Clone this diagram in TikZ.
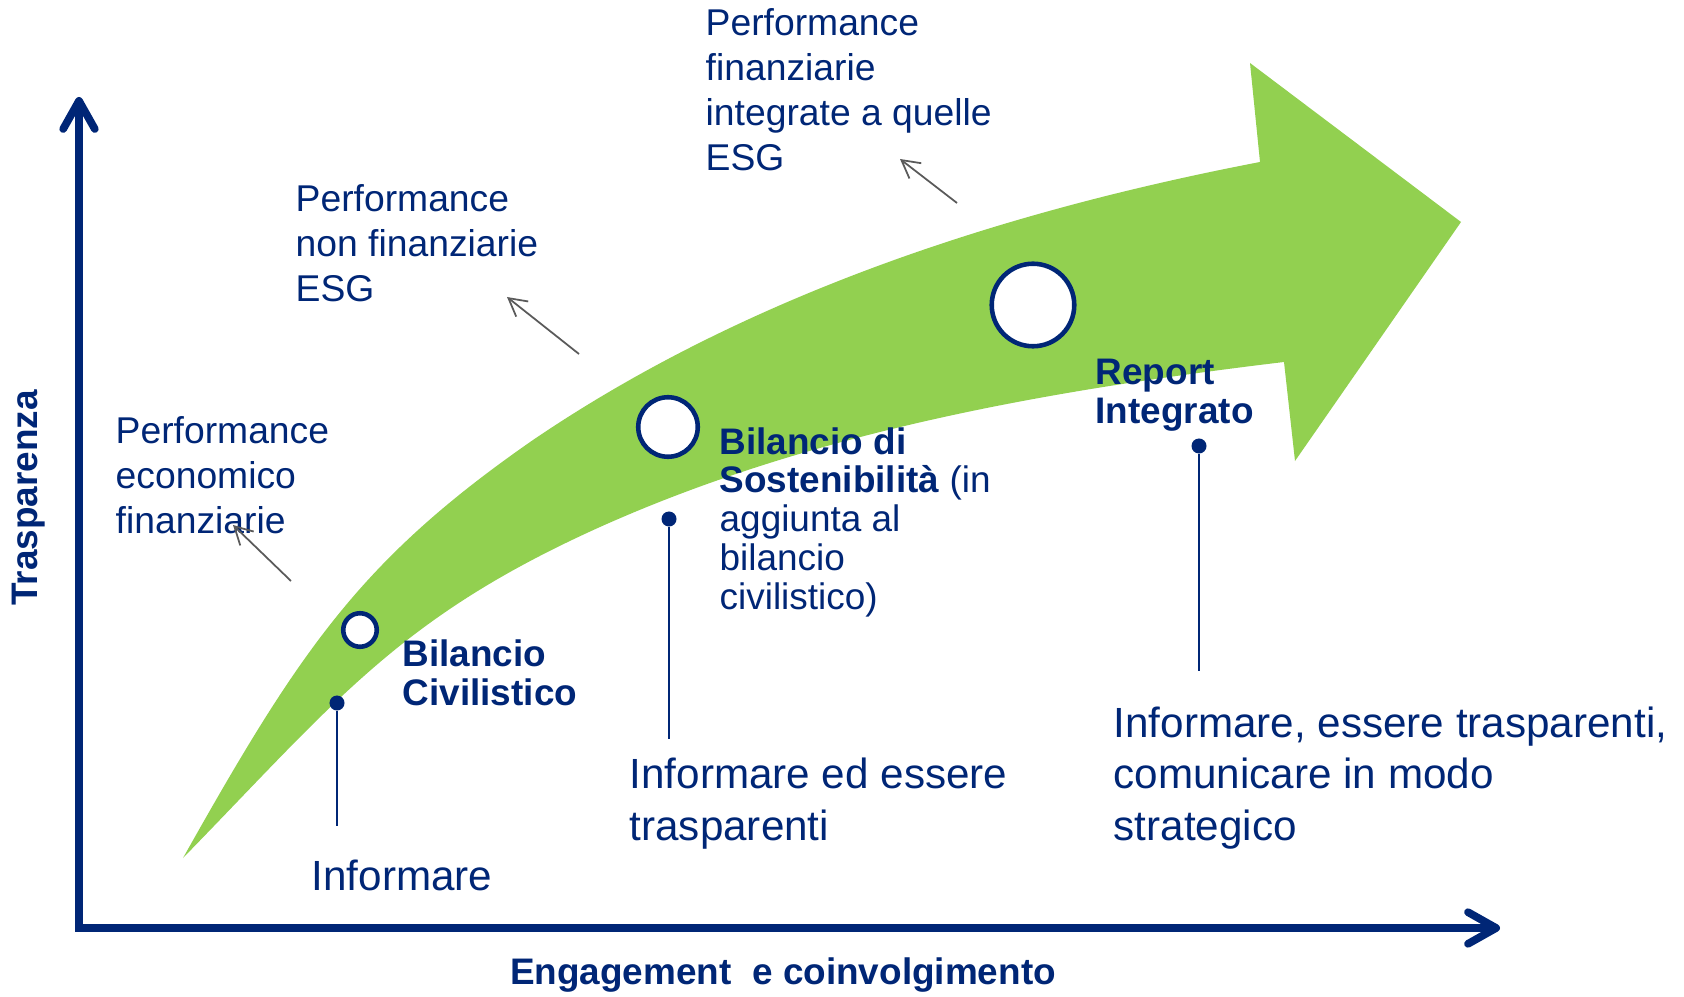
\documentclass[tikz,border=0pt]{standalone}
\usepackage{fontspec}
\setmainfont{Liberation Sans}
\usetikzlibrary{arrows.meta}
\definecolor{navyblu}{RGB}{0,38,118}
\definecolor{verde}{RGB}{146,208,80}
\definecolor{grigio}{RGB}{90,90,90}

\begin{document}
\begin{tikzpicture}[x=0.01cm, y=-0.01cm,
  testo/.style={anchor=base west, inner sep=0pt, align=left, text=navyblu, font=\fontsize{10.6}{12.8}\selectfont},
  grande/.style={testo, font=\fontsize{12}{14.6}\selectfont},
  grassetto/.style={testo, font=\fontsize{10.5}{11}\selectfont\bfseries},
  cerchio/.style={circle, draw=navyblu, fill=white, line width=1.3pt, inner sep=0pt},
  punto/.style={circle, fill=navyblu, inner sep=0pt, minimum size=0.15cm},
  asta/.style={navyblu, line width=0.6pt},
  freccina/.style={grigio, line width=0.5pt, -{Straight Barb[length=5pt,width=5.5pt]}}]

\useasboundingbox (0,0) rectangle (1684,997);

% Freccia verde curva
\fill[verde] (183,858) .. controls (300,650) and (360,560) .. (533,440)
  .. controls (748,294) and (1005,211) .. (1260,162)
  -- (1250,63) -- (1461,222) -- (1295,461) -- (1284,362)
  .. controls (1051,390) and (814,431) .. (600,527)
  .. controls (400,617) and (337,700) .. cycle;

% Assi
\coordinate (ytop) at (79,97);
\coordinate (orig) at (79,928);
\coordinate (xend) at (1500,928);
\draw[navyblu, line width=2.2pt, {Straight Barb[length=8pt,width=9pt,round]}-{Straight Barb[length=8pt,width=9pt,round]}] (ytop) -- (orig) -- (xend);
\node[rotate=90, text=navyblu, font=\fontsize{10.5}{12}\selectfont\bfseries] (ylab) at (29,498) {Trasparenza};
\node[text=navyblu, font=\fontsize{10.5}{12}\selectfont\bfseries] (xlab) at (783,975) {Engagement~ e coinvolgimento};

% Tappe sulla freccia
\node[cerchio, minimum size=0.335cm] (c1) at (360,630) {};
\node[cerchio, minimum size=0.595cm] (c2) at (668,427) {};
\node[cerchio, minimum size=0.825cm] (c3) at (1033,305) {};

% (base = ultima riga)
\node[grassetto] (bil) at (402,705) {Bilancio\\Civilistico};
\node[testo, font=\fontsize{10.5}{11}\selectfont] (sost) at (719,609) {\textbf{Bilancio di}\\\textbf{Sostenibilità} (in\\aggiunta al\\bilancio\\civilistico)};
\node[grassetto] (rep) at (1095,423) {Report\\Integrato};

% Punti e aste
\node[punto] (p1) at (337,703) {};
\node[punto] (p2) at (669,519) {};
\node[punto] (p3) at (1199,446) {};
\coordinate (p1b) at (337,826);
\coordinate (p2b) at (669,739);
\coordinate (p3b) at (1199,671);
\draw[asta] (p1) -- (p1b);
\draw[asta] (p2) -- (p2b);
\draw[asta] (p3) -- (p3b);

\node[grande] (inf1) at (311,890) {Informare};
\node[grande] (inf2) at (629,840) {Informare ed essere\\trasparenti};
\node[grande] (inf3) at (1113,840) {Informare, essere trasparenti,\\comunicare in modo\\strategico};

% Performance
\node[testo] (perf1) at (115,534) {Performance\\economico\\finanziarie};
\node[testo] (perf2) at (295,302) {Performance\\non finanziarie\\ESG};
\node[testo] (perf3) at (705,171) {Performance\\finanziarie\\integrate a quelle\\ESG};

\coordinate (a1s) at (291,581);
\coordinate (a1e) at (233,525);
\coordinate (a2s) at (579,354);
\coordinate (a2e) at (507,297);
\coordinate (a3s) at (957,203);
\coordinate (a3e) at (900,159);
\draw[freccina] (a1s) -- (a1e);
\draw[freccina] (a2s) -- (a2e);
\draw[freccina] (a3s) -- (a3e);

\end{tikzpicture}
\end{document}
